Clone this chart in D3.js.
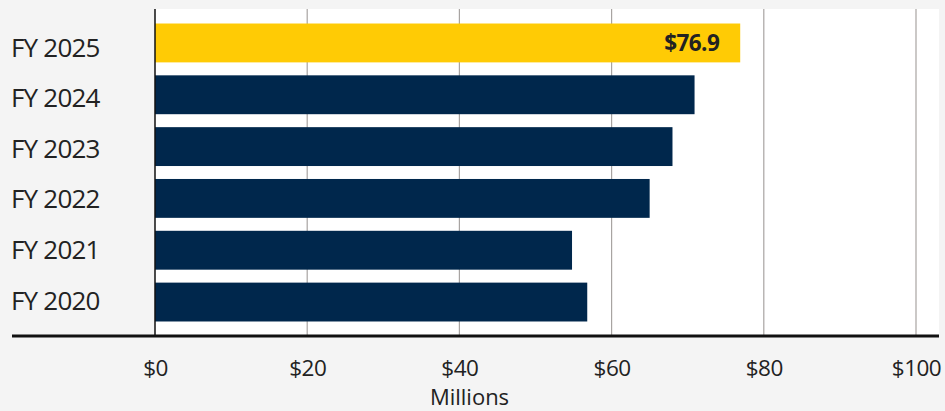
<!DOCTYPE html>
<html>
<head>
<meta charset="utf-8">
<script src="https://cdn.jsdelivr.net/npm/d3@7"></script>
<style>
html,body{margin:0;padding:0;background:#f4f4f4;}
svg{display:block;}
text{font-family:"Open Sans",sans-serif;fill:#222;}
</style>
</head>
<body>
<svg id="chart" width="945" height="411"></svg>
<script>
const categories = ["FY 2025","FY 2024","FY 2023","FY 2022","FY 2021","FY 2020"];
const values = [76.9, 70.9, 68.0, 65.0, 54.8, 56.8];
const tickValues = [0, 20, 40, 60, 80, 100];
const tickLabels = ["$0","$20","$40","$60","$80","$100"];
const highlight = "FY 2025";
const axisTitle = "Millions";

(function () {
const svg = d3.select("#chart");
const W = 945, H = 411;
const mLeft = 155, mRight = 939, mTop = 9, mBottom = 336;

const x = d3.scaleLinear().domain([0, 100]).range([mLeft, mLeft + 761]);
const y = d3.scaleBand().domain(categories).range([mTop, mBottom]).paddingInner(0.25).paddingOuter(0.28);
// label baselines sit on a slightly tighter rhythm than the bars
const yLabel = d3.scalePoint().domain(categories).range([56, 309.3]);

svg.append("rect").attr("width", W).attr("height", H).attr("fill", "#f4f4f4");
svg.append("rect").attr("x", mLeft).attr("y", mTop).attr("width", mRight - mLeft).attr("height", mBottom - mTop).attr("fill", "#ffffff");

// gridlines
svg.append("g").selectAll("line").data(tickValues.filter(d => d > 0)).join("line")
  .attr("x1", d => x(d)).attr("x2", d => x(d))
  .attr("y1", mTop).attr("y2", mBottom)
  .attr("stroke", "#a8a4a2").attr("stroke-width", 1.2);

// bars
svg.append("g").selectAll("rect").data(categories).join("rect")
  .attr("x", x(0))
  .attr("y", d => y(d))
  .attr("width", (d, i) => x(values[i]) - x(0))
  .attr("height", y.bandwidth())
  .attr("fill", d => d === highlight ? "#ffcb05" : "#00274c");

// value label on highlight
const hi = categories.indexOf(highlight);
svg.append("text")
  .attr("x", x(values[hi]) - 21)
  .attr("y", y(highlight) + y.bandwidth() / 2)
  .attr("dy", "0.36em")
  .attr("text-anchor", "end")
  .attr("font-weight", 700)
  .attr("font-size", 22.5)
  .style("letter-spacing", "-0.6px")
  .text("$" + values[hi].toFixed(1));

// zero line
svg.append("line").attr("x1", x(0)).attr("x2", x(0)).attr("y1", mTop).attr("y2", mBottom)
  .attr("stroke", "#111").attr("stroke-width", 1.5);

// category axis labels
const yAxis = d3.axisLeft(yLabel).tickSize(0).tickPadding(0);
const gy = svg.append("g").attr("transform", "translate(11,0)").call(yAxis);
gy.select(".domain").remove();
gy.selectAll("text").attr("text-anchor", "start").attr("x", 0).attr("dy", 0)
  .attr("font-size", 26).attr("fill", "#222")
  .style("font-family", '"Open Sans",sans-serif').style("letter-spacing", "-0.8px");

// bottom axis
const xAxis = d3.axisBottom(x).tickValues(tickValues).tickSize(0).tickPadding(0)
  .tickFormat((d, i) => tickLabels[i]);
const gx = svg.append("g").attr("transform", `translate(0,${mBottom})`).call(xAxis);
gx.select(".domain").remove();
gx.selectAll("text").attr("y", 40).attr("dy", 0)
  .attr("font-size", 22.5).attr("fill", "#222")
  .style("font-family", '"Open Sans",sans-serif').style("letter-spacing", "-0.5px");

svg.append("line").attr("x1", 12).attr("x2", mRight).attr("y1", mBottom).attr("y2", mBottom)
  .attr("stroke", "#111").attr("stroke-width", 3);

svg.append("text").attr("x", 469.5).attr("y", 404.5)
  .attr("text-anchor", "middle").attr("font-size", 22).text(axisTitle);
})();
</script>
</body>
</html>
